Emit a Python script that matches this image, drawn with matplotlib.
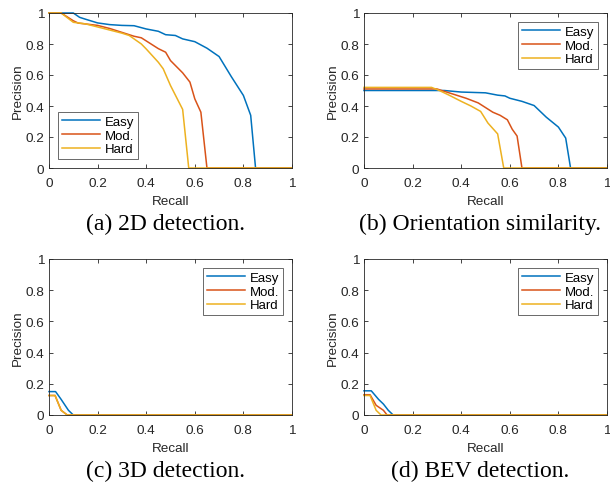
import matplotlib
matplotlib.use("Agg")
import matplotlib.pyplot as plt
from matplotlib.ticker import FixedLocator

# ---- data ----
labels = ["Easy", "Mod.", "Hard"]
colors = ["#0072BD", "#D95319", "#EDB120"]

a_easy_r = [0, 0.10, 0.126, 0.15, 0.2, 0.25, 0.3, 0.35, 0.4, 0.45, 0.48, 0.52, 0.55, 0.6, 0.65, 0.7, 0.75, 0.8, 0.83, 0.85, 1.0]
a_easy_p = [1, 1.0, 0.972, 0.96, 0.936, 0.925, 0.92, 0.918, 0.897, 0.882, 0.86, 0.855, 0.833, 0.815, 0.773, 0.719, 0.59, 0.468, 0.34, 0.0, 0.0]
a_mod_r = [0, 0.05, 0.1, 0.12, 0.2, 0.25, 0.3, 0.35, 0.38, 0.42, 0.45, 0.48, 0.5, 0.55, 0.58, 0.6, 0.625, 0.65, 1.0]
a_mod_p = [1, 1.0, 0.95, 0.935, 0.92, 0.9, 0.875, 0.85, 0.84, 0.8, 0.77, 0.747, 0.693, 0.614, 0.554, 0.446, 0.36, 0.0, 0.0]
a_hard_r = [0, 0.05, 0.1, 0.15, 0.2, 0.25, 0.3, 0.33, 0.38, 0.4, 0.45, 0.47, 0.5, 0.55, 0.575, 1.0]
a_hard_p = [1, 1.0, 0.94, 0.93, 0.91, 0.89, 0.87, 0.855, 0.8, 0.768, 0.682, 0.64, 0.532, 0.378, 0.0, 0.0]

b_easy_r = [0, 0.33, 0.4, 0.5, 0.55, 0.58, 0.6, 0.65, 0.7, 0.75, 0.8, 0.83, 0.85, 1.0]
b_easy_p = [0.5, 0.5, 0.49, 0.485, 0.47, 0.465, 0.45, 0.43, 0.403, 0.328, 0.264, 0.193, 0.0, 0.0]
b_mod_r = [0, 0.3, 0.32, 0.36, 0.42, 0.47, 0.5, 0.53, 0.56, 0.59, 0.61, 0.63, 0.65, 1.0]
b_mod_p = [0.51, 0.51, 0.5, 0.48, 0.45, 0.42, 0.39, 0.36, 0.34, 0.311, 0.25, 0.206, 0.0, 0.0]
b_hard_r = [0, 0.278, 0.31, 0.35, 0.4, 0.44, 0.48, 0.51, 0.55, 0.575, 1.0]
b_hard_p = [0.52, 0.52, 0.5, 0.47, 0.43, 0.4, 0.365, 0.29, 0.22, 0.0, 0.0]

c_easy_r = [0, 0.027, 0.05, 0.08, 0.1, 1.0]
c_easy_p = [0.15, 0.15, 0.1, 0.03, 0.0, 0.0]
c_mod_r = [0, 0.025, 0.05, 0.075, 1.0]
c_mod_p = [0.125, 0.125, 0.03, 0.0, 0.0]
c_hard_r = [0, 0.025, 0.05, 0.075, 1.0]
c_hard_p = [0.125, 0.125, 0.03, 0.0, 0.0]

d_easy_r = [0, 0.03, 0.06, 0.08, 0.1, 0.12, 1.0]
d_easy_p = [0.155, 0.155, 0.1, 0.07, 0.03, 0.0, 0.0]
d_mod_r = [0, 0.025, 0.05, 0.08, 0.095, 1.0]
d_mod_p = [0.13, 0.13, 0.062, 0.03, 0.0, 0.0]
d_hard_r = [0, 0.025, 0.05, 0.07, 1.0]
d_hard_p = [0.125, 0.125, 0.03, 0.0, 0.0]

ticks = [0, 0.2, 0.4, 0.6, 0.8, 1.0]
tick_labels = ["0", "0.2", "0.4", "0.6", "0.8", "1"]
captions = ["(a) 2D detection.", "(b) Orientation similarity.",
            "(c) 3D detection.", "(d) BEV detection."]

panels = [
    ([(a_easy_r, a_easy_p), (a_mod_r, a_mod_p), (a_hard_r, a_hard_p)], "lower left"),
    ([(b_easy_r, b_easy_p), (b_mod_r, b_mod_p), (b_hard_r, b_hard_p)], "upper right"),
    ([(c_easy_r, c_easy_p), (c_mod_r, c_mod_p), (c_hard_r, c_hard_p)], "upper right"),
    ([(d_easy_r, d_easy_p), (d_mod_r, d_mod_p), (d_hard_r, d_hard_p)], "upper right"),
]

W, H = 610, 485
fig = plt.figure(figsize=(W / 100, H / 100), dpi=100)
plt.rcParams['font.family'] = ['Liberation Sans', 'DejaVu Sans']

# axes boxes in pixels: left, right, top, bottom
boxes = [(49, 292, 14, 169), (364, 607, 14, 169),
         (49, 292, 260, 416), (364, 607, 260, 416)]
gray = "#262626"
fs = 9.7

for i, ((series, legloc), box) in enumerate(zip(panels, boxes)):
    l, r, t, b = box
    ax = fig.add_axes([l / W, 1 - b / H, (r - l) / W, (b - t) / H])
    for (xs, ys), lab, col in zip(series, labels, colors):
        ax.plot(xs, ys, color=col, lw=1.1, label=lab, clip_on=False)
    ax.set_xlim(0, 1)
    ax.set_ylim(0, 1)
    ax.xaxis.set_major_locator(FixedLocator(ticks))
    ax.yaxis.set_major_locator(FixedLocator(ticks))
    ax.set_xticklabels(tick_labels)
    ax.set_yticklabels(tick_labels)
    ax.tick_params(direction="in", length=3, width=0.6, colors=gray,
                   labelsize=fs, top=True, right=True)
    ax.tick_params(axis="x", pad=6.5)
    ax.tick_params(axis="y", pad=3.5)
    for s in ax.spines.values():
        s.set_color(gray)
        s.set_linewidth(0.6)
    ax.set_xlabel("Recall", fontsize=fs, color=gray, labelpad=4)
    ax.set_ylabel("Precision", fontsize=fs, color=gray, labelpad=1)
    leg = ax.legend(loc=legloc, fontsize=9.5, frameon=True, fancybox=False,
                    handlelength=2.9, handletextpad=0.4, borderpad=0.25,
                    labelspacing=0.12, borderaxespad=0.7)
    leg.get_frame().set_edgecolor(gray)
    leg.get_frame().set_linewidth(0.6)
    cx = (l + r) / 2 - 5.5
    cy = b + 55
    fig.text(cx / W, 1 - cy / H, captions[i], ha="center", va="center",
             fontsize=17, family="Liberation Serif")

fig.savefig("out.png", dpi=100)
